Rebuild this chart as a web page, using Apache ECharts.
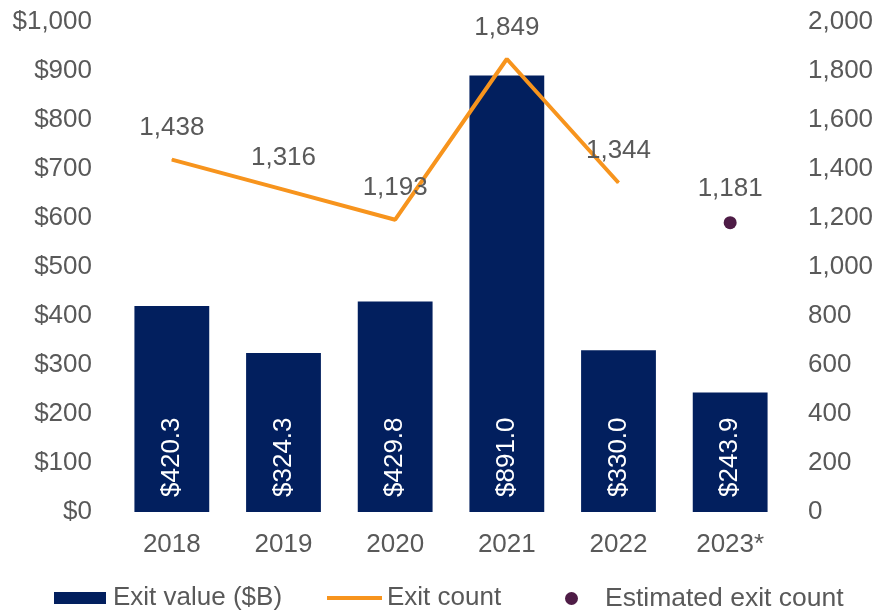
<!DOCTYPE html>
<html>
<head>
<meta charset="utf-8">
<script src="https://cdn.jsdelivr.net/npm/echarts@6/dist/echarts.min.js"></script>
<style>
html, body { margin: 0; padding: 0; background: #fff; }
#chart { width: 877px; height: 612px; }
</style>
</head>
<body>
<div id="chart"></div>
<script>
// data
var years = ['2018', '2019', '2020', '2021', '2022', '2023*']
var exitValue = [420.3, 324.3, 429.8, 891.0, 330.0, 243.9]
var exitCount = [1438, 1316, 1193, 1849, 1344, '-']
var estimatedCount = ['-', '-', '-', '-', '-', 1181]

var grey = '#595959'
var font = 'Liberation Sans, Arial, sans-serif'
var legendText = { color: grey, fontSize: 26, fontFamily: font }

var chart = echarts.init(document.getElementById('chart'))

chart.setOption({
  animation: false,
  textStyle: { fontFamily: font },
  grid: { left: 116, right: 91, top: 22, bottom: 100 },
  legend: [
    {
      left: 49, top: 580,
      itemWidth: 52, itemHeight: 12,
      textStyle: Object.assign({ padding: [0, 0, 0, 2] }, legendText),
      data: [{ name: 'Exit value ($B)', icon: 'rect' }]
    },
    {
      left: 322, top: 580,
      itemWidth: 55, itemHeight: 14,
      textStyle: legendText,
      data: [{ name: 'Exit count', icon: 'path://M0,0L55,0L55,4L0,4Z' }]
    },
    {
      left: 560, top: 580,
      itemWidth: 13, itemHeight: 13,
      textStyle: Object.assign({ padding: [0, 0, 0, 22] }, legendText, { fontSize: 26.5 }),
      data: [{ name: 'Estimated exit count', icon: 'circle' }]
    }
  ],
  xAxis: {
    type: 'category',
    data: years,
    axisLine: { show: false },
    axisTick: { show: false },
    axisLabel: { color: grey, fontSize: 26, margin: 20 }
  },
  yAxis: [
    {
      type: 'value',
      min: 0, max: 1000, interval: 100,
      splitLine: { show: false },
      axisLabel: {
        color: grey, fontSize: 26, margin: 24,
        formatter: function (v) { return '$' + v.toLocaleString('en-US') }
      }
    },
    {
      type: 'value',
      min: 0, max: 2000, interval: 200,
      splitLine: { show: false },
      axisLabel: {
        color: grey, fontSize: 26, margin: 22,
        formatter: function (v) { return v.toLocaleString('en-US') }
      }
    }
  ],
  series: [
    {
      name: 'Exit value ($B)',
      type: 'bar',
      data: exitValue,
      barCategoryGap: '33%',
      itemStyle: { color: '#021F5E' },
      label: {
        show: true,
        position: 'insideBottom',
        rotate: 90,
        align: 'left',
        verticalAlign: 'middle',
        distance: 15,
        color: '#fff',
        fontSize: 26,
        formatter: function (p) { return '$' + p.value.toFixed(1) }
      }
    },
    {
      name: 'Exit count',
      type: 'line',
      yAxisIndex: 1,
      data: exitCount,
      symbol: 'circle',
      symbolSize: 1,
      showSymbol: true,
      lineStyle: { color: '#F7941D', width: 4 },
      itemStyle: { color: '#F7941D' },
      label: {
        show: true,
        position: 'top',
        distance: 18,
        color: grey,
        fontSize: 26,
        formatter: function (p) { return p.value.toLocaleString('en-US') }
      }
    },
    {
      name: 'Estimated exit count',
      type: 'scatter',
      yAxisIndex: 1,
      data: estimatedCount,
      symbolSize: 13,
      itemStyle: { color: '#4E1C46', opacity: 1 },
      label: {
        show: true,
        position: 'top',
        distance: 14,
        color: grey,
        fontSize: 26,
        formatter: function (p) { return p.value.toLocaleString('en-US') }
      }
    }
  ]
})
</script>
</body>
</html>
